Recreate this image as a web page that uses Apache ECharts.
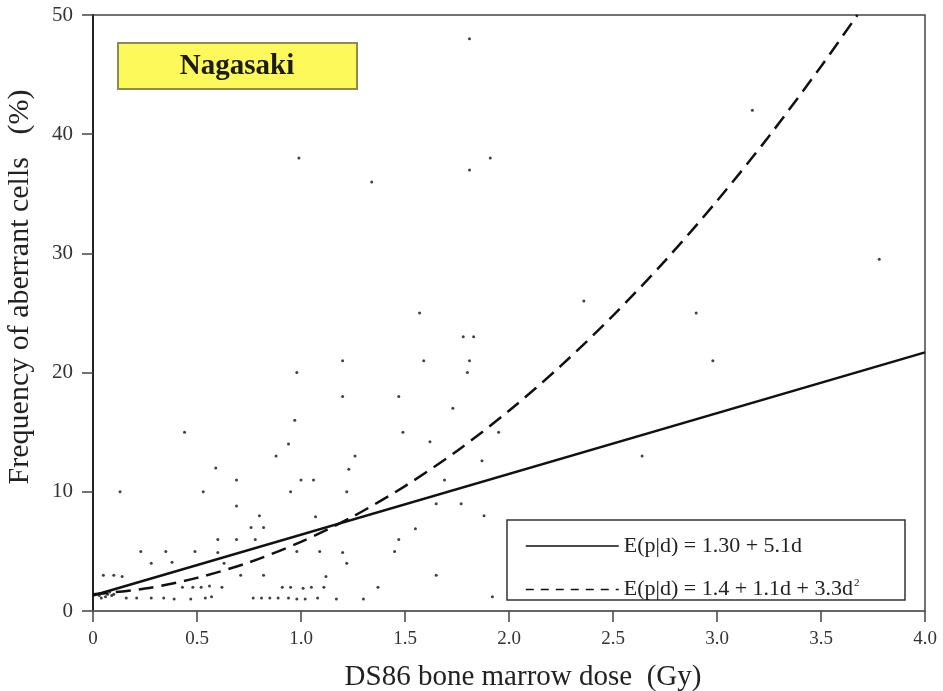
<!DOCTYPE html>
<html>
<head>
<meta charset="utf-8">
<script src="https://cdn.jsdelivr.net/npm/echarts@6/dist/echarts.min.js"></script>
<style>
	html, body { margin: 0; padding: 0; background: #fff; }
	#main { width: 943px; height: 691px; }
</style>
</head>
<body>
<div id="main"></div>
<script>
	// dose (Gy) and frequency (%), one dot per cell
	var doseVals = [
		1.81, 0.99, 1.34, 1.81, 1.91, 3.17, 3.78, 2.36, 2.90, 2.98, 2.64,
		1.57, 1.78, 1.83, 1.59, 1.81, 1.20, 1.80, 0.98, 1.47, 1.20, 1.73,
		0.97, 1.49, 0.44, 1.95, 0.94, 1.62, 1.26, 0.88, 1.87, 0.59, 1.23,
		1.00, 1.06, 0.69, 1.69, 0.13, 0.53, 0.95, 1.22, 1.65, 1.77, 0.69,
		0.80, 1.07, 1.88, 0.76, 0.82, 1.55, 0.60, 0.69, 0.78, 1.47, 0.23,
		0.35, 0.49, 0.60, 0.98, 1.09, 1.20, 1.45, 0.28, 0.38, 0.63, 1.22,
		0.05, 0.10, 0.14, 0.71, 0.82, 1.12, 1.65, 0.43, 0.48, 0.52, 0.56,
		0.62, 0.91, 0.95, 1.01, 1.05, 1.11, 1.37, 0.16, 0.21, 0.28, 0.34,
		0.39, 0.47, 0.54, 0.57, 0.77, 0.81, 0.85, 0.89, 0.94, 0.98, 1.02,
		1.08, 1.17, 1.30, 1.92, 0.03, 0.05, 0.06, 0.07, 0.08, 0.09, 0.04, 0.10
	];
	var freqVals = [
		48, 38, 36, 37, 38, 42, 29.5, 26, 25, 21, 13,
		25, 23, 23, 21, 21, 21, 20, 20, 18, 18, 17,
		16, 15, 15, 15, 14, 14.2, 13, 13, 12.6, 12, 11.9,
		11, 11, 11, 11, 10, 10, 10, 10, 9, 9, 8.8,
		8, 7.9, 8, 7, 7, 6.9, 6, 6, 6, 6, 5,
		5, 5, 4.9, 5, 5, 4.9, 5, 4, 4.1, 4, 4,
		3, 3, 2.9, 3, 3, 2.9, 3, 2, 2, 2, 2.1,
		2, 2, 2, 1.9, 2, 2, 2, 1.1, 1.1, 1.1, 1.1,
		1, 1, 1.1, 1.2, 1.1, 1.1, 1.1, 1.1, 1.1, 1, 1,
		1.1, 1, 1, 1.2, 1.3, 1.5, 1.2, 1.4, 1.6, 1.3, 1.1, 1.4
	];

	// fitted curves as drawn
	var linDose = [0, 4.0];
	var linFreq = [1.3, 21.7];
	var quadDose = [0, 0.25, 0.5, 0.75, 1.0, 1.25, 1.5, 1.75, 2.0, 2.25, 2.5, 2.75, 3.0, 3.25, 3.5, 3.675];
	var quadFreq = [1.4, 1.88, 2.78, 4.08, 5.8, 7.93, 10.48, 13.43, 16.8, 20.58, 24.78, 29.38, 34.4, 39.83, 45.68, 50];

	var xTicks = [0, 0.5, 1.0, 1.5, 2.0, 2.5, 3.0, 3.5, 4.0];
	var yTicks = [0, 10, 20, 30, 40, 50];

	var myChart = echarts.init(document.getElementById('main'), null, { renderer: 'canvas' });

	var pts = [];
	for (var i = 0; i < doseVals.length; i++) {
		pts.push([doseVals[i], freqVals[i]]);
	}
	var lin = [];
	for (var i = 0; i < linDose.length; i++) {
		lin.push([linDose[i], linFreq[i]]);
	}
	var quad = [];
	for (var i = 0; i < quadDose.length; i++) {
		quad.push([quadDose[i], quadFreq[i]]);
	}

	var serif = 'Liberation Serif';
	var legendText = {
		lin: '{t|E(p|d) = 1.30 + 5.1d}',
		quad: '{t|E(p|d) = 1.4 + 1.1d + 3.3d}{s|2}'
	};

	var option = {
		animation: false,
		backgroundColor: '#fff',
		grid: {
			left: 93,
			top: 15,
			width: 832,
			height: 596,
			outerBoundsMode: 'none',
			containLabel: false,
			show: true,
			borderColor: '#444',
			borderWidth: 1.5
		},
		xAxis: {
			type: 'value',
			min: 0,
			max: 4,
			interval: 0.5,
			name: 'DS86 bone marrow dose  (Gy)',
			nameLocation: 'middle',
			nameGap: 52,
			nameTextStyle: { fontFamily: serif, fontSize: 29, color: '#222', padding: [0, 0, 0, 28] },
			axisLine: { lineStyle: { color: '#666', width: 2 } },
			axisTick: { show: true, length: 11, lineStyle: { color: '#444', width: 1.5 } },
			axisLabel: {
				margin: 19,
				fontFamily: serif,
				fontSize: 19,
				color: '#333',
				formatter: function (v) { return v === 0 ? '0' : v.toFixed(1); }
			},
			splitLine: { show: false }
		},
		yAxis: {
			type: 'value',
			min: 0,
			max: 50,
			interval: 10,
			name: 'Frequency of aberrant cells   (%)',
			nameLocation: 'middle',
			nameGap: 58,
			nameTextStyle: { fontFamily: serif, fontSize: 30, color: '#222', padding: [0, 0, 0, 52] },
			axisLine: { lineStyle: { color: '#222', width: 2 } },
			axisTick: { show: true, length: 11, lineStyle: { color: '#444', width: 1.5 } },
			axisLabel: { margin: 20, fontFamily: serif, fontSize: 21, color: '#333' },
			splitLine: { show: false }
		},
		legend: {
			orient: 'vertical',
			left: 525,
			top: 535,
			padding: 0,
			itemWidth: 93,
			itemHeight: 18,
			itemGap: 21,
			data: [
				{ name: 'lin', itemStyle: { opacity: 0 }, lineStyle: { width: 1.5, type: 'solid', color: '#111' } },
				{ name: 'quad', itemStyle: { opacity: 0 }, lineStyle: { width: 1.5, type: [8, 7], color: '#111' } }
			],
			formatter: function (name) { return legendText[name]; },
			textStyle: {
				rich: {
					t: { fontFamily: serif, fontSize: 22, color: '#222' },
					s: { fontFamily: serif, fontSize: 11, color: '#222', verticalAlign: 'top', padding: [0, 0, 12, 1] }
				}
			}
		},
		graphic: [
			{
				type: 'rect',
				z: 3,
				shape: { x: 507, y: 520, width: 398, height: 80 },
				style: { fill: '#fff', stroke: '#333', lineWidth: 1.5 }
			},
			{
				type: 'rect',
				z: 3,
				shape: { x: 118, y: 43, width: 239, height: 46 },
				style: { fill: '#fdf95a', stroke: '#8c8a55', lineWidth: 2 }
			},
			{
				type: 'text',
				z: 4,
				x: 237,
				y: 67,
				style: {
					text: 'Nagasaki',
					fontFamily: serif,
					fontWeight: 'bold',
					fontSize: 29,
					fill: '#1c1c14',
					align: 'center',
					verticalAlign: 'middle'
				}
			}
		],
		series: [
			{
				name: 'dots',
				type: 'scatter',
				symbol: 'circle',
				symbolSize: 3,
				itemStyle: { color: '#111' },
				data: pts,
				z: 2
			},
			{
				name: 'lin',
				type: 'line',
				showSymbol: false,
				symbol: 'none',
				itemStyle: { color: '#111' },
				lineStyle: { color: '#111', width: 2.5, type: 'solid' },
				data: lin,
				z: 2
			},
			{
				name: 'quad',
				type: 'line',
				showSymbol: false,
				symbol: 'none',
				smooth: 0.3,
				itemStyle: { color: '#111' },
				lineStyle: { color: '#111', width: 2.5, type: [15, 8] },
				data: quad,
				z: 2
			}
		]
	};

	option && myChart.setOption(option);
</script>
</body>
</html>
